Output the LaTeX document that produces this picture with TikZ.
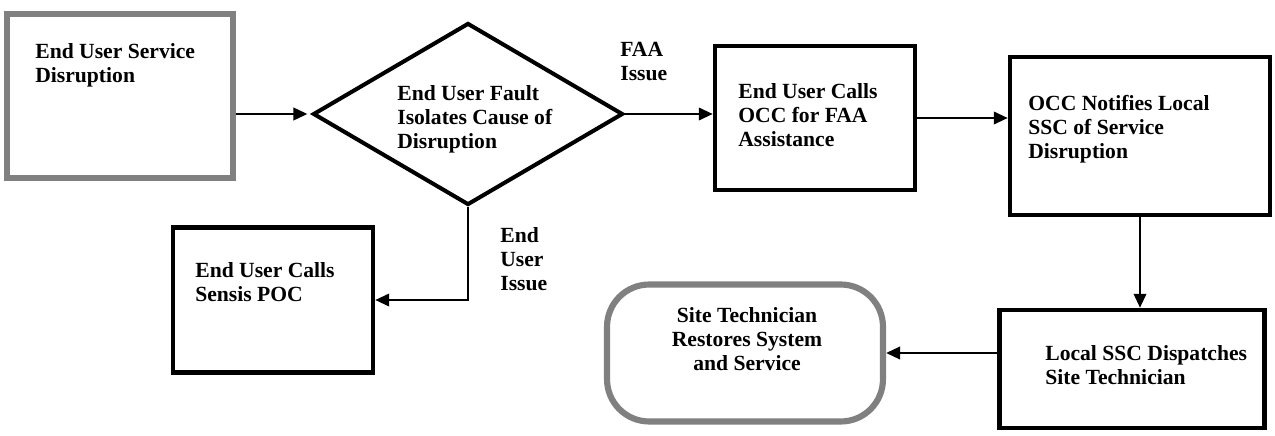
\documentclass[tikz,border=0pt]{standalone}
\usepackage{fontspec}
\setmainfont{Liberation Serif}
\usetikzlibrary{arrows.meta, positioning, shapes.geometric}

\begin{document}
\begin{tikzpicture}[
    x=0.02cm, y=-0.02cm,
    every node/.style={font=\fontsize{12.3}{13.7}\selectfont\bfseries},
    procbox/.style={draw=black, line width=2.5pt},
    scanbox/.style={draw=black!50, line width=3.5pt},
    decide/.style={diamond, draw=black, line width=2.3pt, inner sep=0pt,
                   minimum width=6.2cm, minimum height=3.64cm},
    txt/.style={anchor=north west, inner sep=0pt, align=left},
    flow/.style={line width=1.6pt, -{Triangle[length=8pt,width=7pt]}}
  ]
    \useasboundingbox (0,0) rectangle (1275,436);
    % shapes
    \node[scanbox, minimum width=4.52cm, minimum height=3.28cm] (start) at (120,96) {};
    \node[decide] (isolate) at (468,114) {};
    \node[procbox, minimum width=4cm, minimum height=2.88cm] (occcall) at (815,118) {};
    \node[procbox, minimum width=5.2cm, minimum height=3.16cm] (notify) at (1140,136) {};
    \node[procbox, minimum width=4cm, minimum height=2.9cm] (sensis) at (273,300) {};
    \node[procbox, minimum width=5.3cm, minimum height=2.36cm] (dispatch) at (1132,369) {};
    \node[scanbox, rounded corners=24pt, minimum width=5.52cm, minimum height=2.74cm] (restore) at (745,353) {};
    % texts
    \node[txt] (t-start) at (35,43) {End User Service\\Disruption};
    \node[txt] (t-isolate) at (397,85) {End User Fault\\Isolates Cause of\\Disruption};
    \node[txt] (faa) at (620,42) {FAA\\Issue};
    \node[txt] (t-occcall) at (738,83) {End User Calls\\OCC for FAA\\Assistance};
    \node[txt] (t-notify) at (1028,95) {OCC Notifies Local\\SSC of Service\\Disruption};
    \node[txt] (t-sensis) at (195,262) {End User Calls\\Sensis POC};
    \node[txt] (enduser) at (500,227) {End\\User\\Issue};
    \node[txt] (t-dispatch) at (1045,345) {Local SSC Dispatches\\Site Technician};
    \node[txt, anchor=north, align=center] (t-restore) at (747,307) {Site Technician\\Restores System\\and Service};
    % connectors
    \draw[flow, shorten >=2pt] (start.east |- isolate.west) -- (isolate.west);
    \draw[flow] (isolate.east) -- (isolate.east -| occcall.west);
    \draw[flow] (occcall.east) -- (occcall.east -| notify.west);
    \draw[flow] (notify.south) -- (notify.south |- dispatch.north);
    \draw[flow] (dispatch.west |- restore.east) -- (restore.east);
    \draw[flow] (isolate.south) |- (sensis.east);
\end{tikzpicture}
\end{document}
